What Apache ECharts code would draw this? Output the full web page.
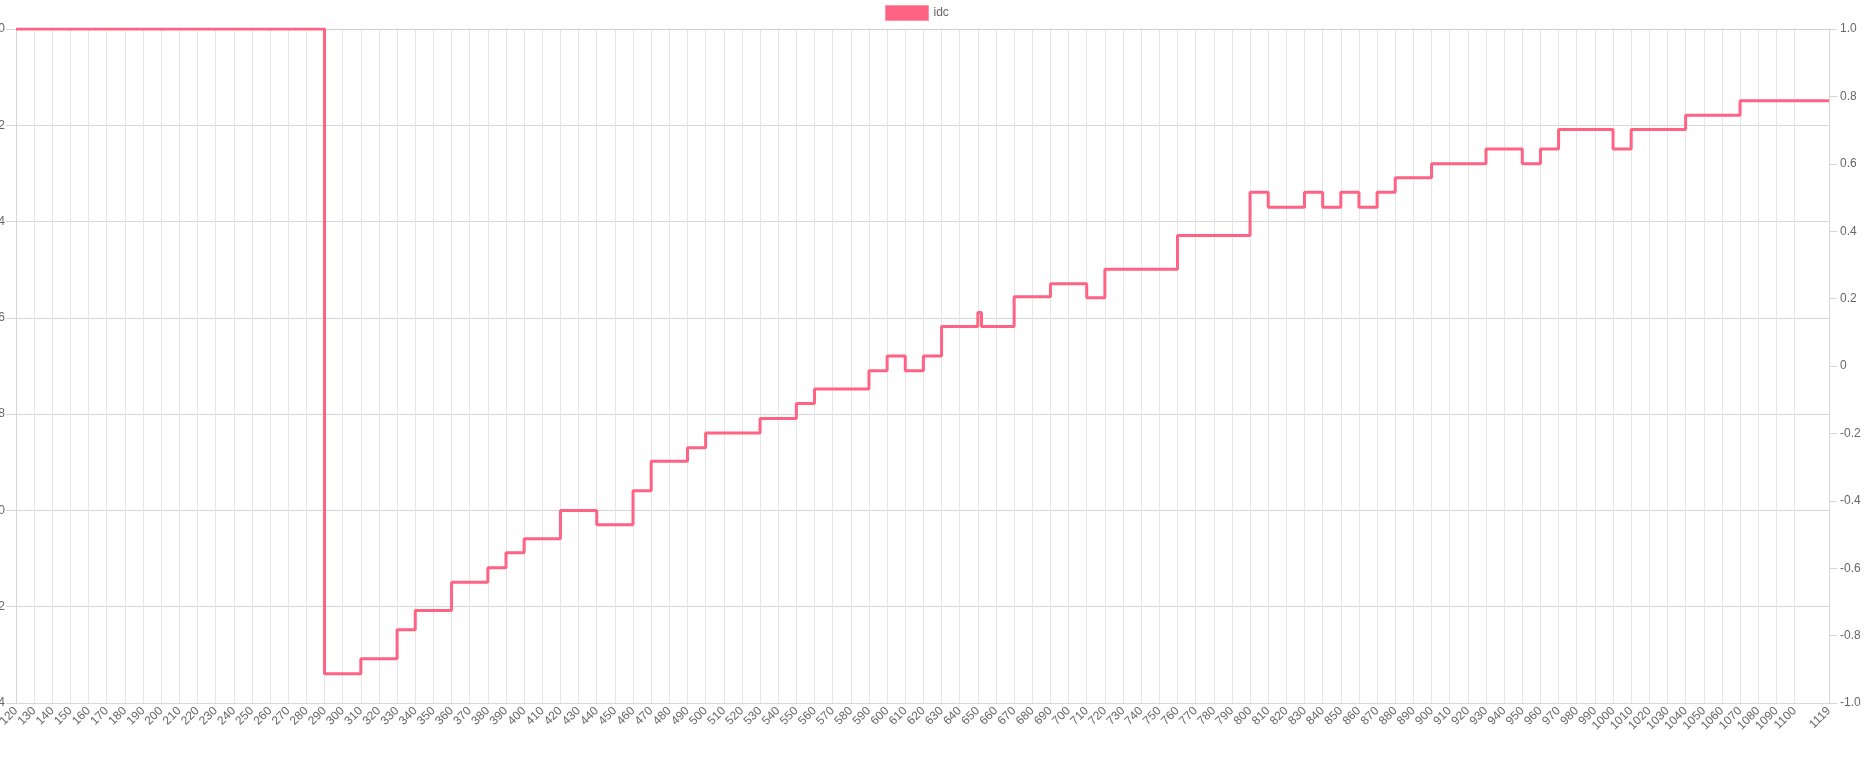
<!DOCTYPE html>
<html>
<head>
<meta charset="utf-8">
<script src="https://cdn.jsdelivr.net/npm/echarts@6/dist/echarts.min.js"></script>
<style>
  html, body { margin: 0; padding: 0; background: #fff; }
  #chart { width: 1869px; height: 759px; }
</style>
</head>
<body>
<div id="chart"></div>
<script>
// x categories: 120 .. 1119
const categories = [];
for (let c = 120; c <= 1119; c++) categories.push(String(c));

// step breakpoints of the "idc" series: value holds from this category on
const stepCats = ['120', '290', '310', '330', '340', '360', '380', '390', '400', '420',
  '440', '460', '470', '490', '500', '530', '550', '560', '590', '600',
  '610', '620', '630', '650', '652', '670', '690', '710', '720', '760',
  '800', '810', '830', '840', '850', '860', '870', '880', '900', '930',
  '950', '960', '970', '1000', '1010', '1040', '1070', '1119'];
const stepValues = [0, -1.339, -1.308, -1.248, -1.208, -1.149, -1.119, -1.088, -1.059, -1.0,
  -1.030, -0.959, -0.898, -0.870, -0.839, -0.809, -0.778, -0.748, -0.710, -0.679,
  -0.710, -0.679, -0.618, -0.589, -0.618, -0.556, -0.529, -0.558, -0.499, -0.429,
  -0.339, -0.370, -0.339, -0.370, -0.339, -0.370, -0.339, -0.309, -0.280, -0.249,
  -0.280, -0.249, -0.209, -0.249, -0.209, -0.179, -0.149, -0.149];

const seriesName = 'idc';
const lineColor = '#ff6384';

const chart = echarts.init(document.getElementById('chart'));

// show every 10th label, skip 1110 (overlaps the last one), always show last
const showTick = (idx) => (idx % 10 === 0 && idx !== 990) || idx === categories.length - 1;
const fmt = (v) => v === 0 ? '0' : v.toFixed(1);

const option = {
  animation: false,
  textStyle: { fontFamily: "'Liberation Sans', Arial, sans-serif" },
  legend: {
    data: [seriesName],
    left: 885,
    top: 5,
    padding: 0,
    icon: 'rect',
    itemWidth: 43,
    itemHeight: 15,
    itemStyle: { borderColor: '#ff8ea6', borderWidth: 1 },
    textStyle: { color: '#666', fontSize: 12 }
  },
  grid: { left: 16, right: 40, top: 29, bottom: 56, containLabel: false, outerBoundsMode: 'none' },
  xAxis: {
    type: 'category',
    data: categories,
    boundaryGap: false,
    axisLine: { lineStyle: { color: '#cfcfcf' } },
    axisTick: { show: false },
    axisLabel: {
      interval: (idx) => showTick(idx),
      rotate: 45,
      margin: 6,
      color: '#666',
      fontSize: 12
    },
    splitLine: {
      show: true,
      interval: (idx) => showTick(idx),
      lineStyle: { color: '#e6e6e6', width: 1 }
    }
  },
  yAxis: [
    {
      type: 'value',
      position: 'left',
      min: -1.4,
      max: 0,
      interval: 0.2,
      axisLine: { show: true, lineStyle: { color: '#d6d6d6' } },
      axisTick: { show: true, length: 10, lineStyle: { color: '#d6d6d6' } },
      axisLabel: { margin: 11, color: '#666', fontSize: 12, formatter: fmt },
      splitLine: {
        show: true,
        lineStyle: {
          color: ['#d6d6d6', '#d6d6d6', '#d6d6d6', '#d6d6d6', '#d6d6d6', '#d6d6d6', '#d6d6d6', '#bfbfbf'],
          width: 1
        }
      }
    },
    {
      type: 'value',
      position: 'right',
      min: -1,
      max: 1,
      interval: 0.2,
      axisLine: { show: true, lineStyle: { color: '#d6d6d6' } },
      axisTick: { show: true, length: 8, lineStyle: { color: '#d6d6d6' } },
      axisLabel: { margin: 11, color: '#666', fontSize: 12, formatter: fmt },
      splitLine: { show: false }
    }
  ],
  series: [{
    name: seriesName,
    type: 'line',
    yAxisIndex: 0,
    step: 'end',
    showSymbol: false,
    symbol: 'none',
    data: stepCats.map((c, i) => [c, stepValues[i]]),
    itemStyle: { color: lineColor },
    lineStyle: { color: lineColor, width: 3 }
  }]
};

chart.setOption(option);
window.addEventListener('resize', function() {
  chart.resize();
});
</script>
</body>
</html>
